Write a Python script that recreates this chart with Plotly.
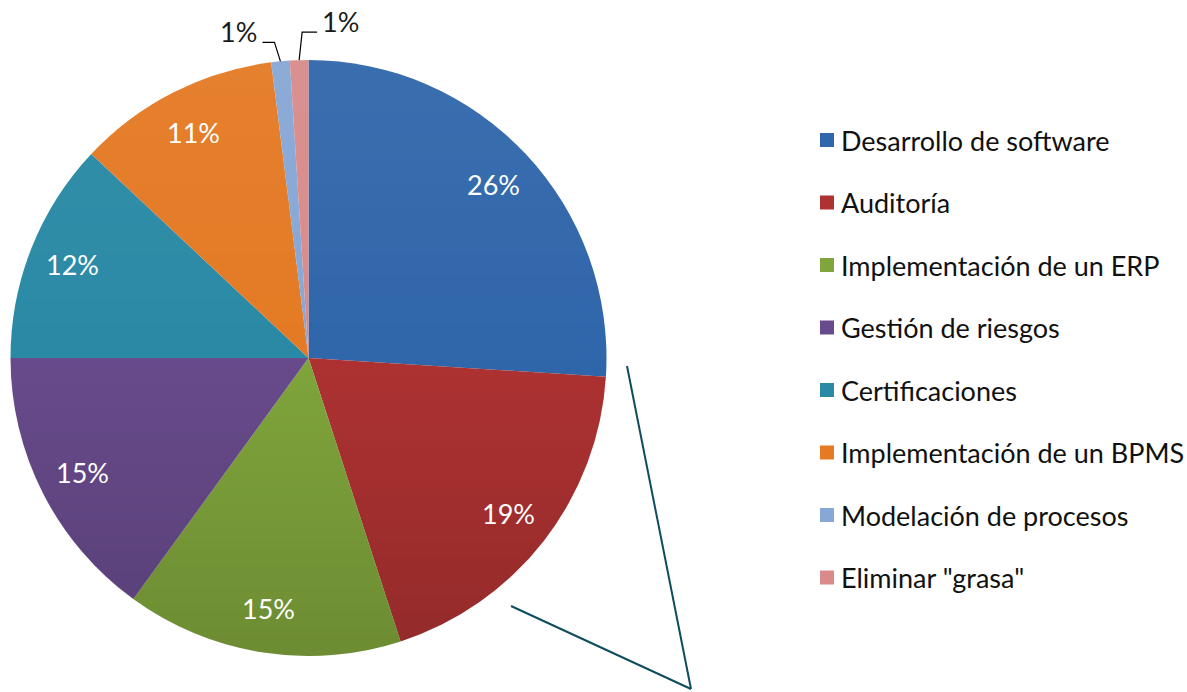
import base64
import math
import struct
import zlib

import numpy as np
import plotly.graph_objects as go

# Share of effort by initiative (%), clockwise from 12 o'clock
categories = [
    "Desarrollo de software",
    "Auditoría",
    "Implementación de un ERP",
    "Gestión de riesgos",
    "Certificaciones",
    "Implementación de un BPMS",
    "Modelación de procesos",
    'Eliminar "grasa"',
]
values = [26, 19, 15, 15, 12, 11, 1, 1]
colors = ["#3067ab", "#ae3232", "#80a53c", "#684b8c", "#2a8aa6",
          "#e47a24", "#87a7d6", "#d98b8b"]

W, H = 1187, 692
CX, CY, R = 308.5, 358.0, 298.0      # pie centre and radius in pixels
FONT = "Lato"


def px(x):
    return x / W


def py(y):
    return 1 - y / H


def shading_png(radius, scale=2, top_light=0.05, bottom_dark=0.15):
    """Round RGBA overlay: light wash at the top fading to a dark wash at the bottom."""
    n = int(2 * radius * scale)
    yy, xx = np.mgrid[0:n, 0:n].astype(float) + 0.5
    c = n / 2
    dist = np.hypot(xx - c, yy - c)
    cover = np.clip(c - dist + 0.5, 0, 1)
    t = yy / n
    rgba = np.zeros((n, n, 4), dtype=float)
    upper = t < 0.5
    rgba[..., :3] = np.where(upper[..., None], 255.0, 0.0)
    alpha = np.where(upper, top_light * (1 - t / 0.5), bottom_dark * (t - 0.5) / 0.5)
    rgba[..., 3] = 255 * alpha * cover
    img = rgba.round().astype(np.uint8)
    raw = b"".join(b"\x00" + img[r].tobytes() for r in range(n))

    def chunk(tag, data):
        return (struct.pack(">I", len(data)) + tag + data
                + struct.pack(">I", zlib.crc32(tag + data) & 0xFFFFFFFF))

    png = (b"\x89PNG\r\n\x1a\n"
           + chunk(b"IHDR", struct.pack(">IIBBBBB", n, n, 8, 6, 0, 0, 0))
           + chunk(b"IDAT", zlib.compress(raw, 9))
           + chunk(b"IEND", b""))
    return "data:image/png;base64," + base64.b64encode(png).decode()


fig = go.Figure()
fig.add_trace(go.Pie(
    labels=categories,
    values=values,
    sort=False,
    direction="clockwise",
    rotation=0,
    marker=dict(colors=colors, line=dict(width=0)),
    textinfo="none",
    hoverinfo="label+percent",
    showlegend=False,
    domain=dict(x=[px(CX - R), px(CX + R)], y=[py(CY + R), py(CY - R)]),
))

total = sum(values)
annotations = []
shapes = []

# elbow leader lines for the thin slices: (rise, horizontal run)
leaders = {6: (19, -12), 7: (28, 15)}

cum = 0.0
for i, (lab, v) in enumerate(zip(categories, values)):
    mid = (cum + v / 2) / total * 2 * math.pi
    cum += v
    txt = f"{round(v / total * 100)}%"
    if i in leaders:
        rise, run = leaders[i]
        x0 = CX + R * math.sin(mid)
        y0 = CY - R * math.cos(mid)
        x1 = x0 + (3 if run > 0 else -6)
        y1 = y0 - rise
        x2 = x1 + run
        shapes.append(dict(type="path", xref="paper", yref="paper",
                           path=f"M{px(x0)},{py(y0)} L{px(x1)},{py(y1)} L{px(x2)},{py(y1)}",
                           line=dict(color="#000000", width=1.2)))
        annotations.append(dict(
            x=px(x2 + (3 if run > 0 else -3)), y=py(y1 - 11), xref="paper", yref="paper",
            text=txt, showarrow=False,
            xanchor="left" if run > 0 else "right", yanchor="middle",
            font=dict(family=FONT, size=27, color="#1a1a1a")))
    else:
        r = 0.85 * R
        annotations.append(dict(
            x=px(CX + r * math.sin(mid)), y=py(CY - r * math.cos(mid)),
            xref="paper", yref="paper", text=txt, showarrow=False,
            xanchor="center", yanchor="middle",
            font=dict(family=FONT, size=27, color="#ffffff")))

# legend column
LEG_X, LEG_Y0, LEG_DY, SQ = 820, 140, 62.5, 14
for i, (lab, c) in enumerate(zip(categories, colors)):
    yc = LEG_Y0 + i * LEG_DY
    shapes.append(dict(type="rect", xref="paper", yref="paper",
                       x0=px(LEG_X), x1=px(LEG_X + SQ),
                       y0=py(yc + SQ / 2), y1=py(yc - SQ / 2),
                       fillcolor=c, line=dict(width=0)))
    annotations.append(dict(
        x=px(LEG_X + SQ + 5), y=py(yc), xref="paper", yref="paper",
        text=lab, showarrow=False, xanchor="left", yanchor="middle",
        font=dict(family=FONT, size=27, color="#111111")))

# callout lines running off the lower right of the pie
CALLOUT = "#0f4d5e"
shapes.append(dict(type="line", xref="paper", yref="paper",
                   x0=px(627), y0=py(366), x1=px(691), y1=py(689),
                   line=dict(color=CALLOUT, width=2)))
shapes.append(dict(type="line", xref="paper", yref="paper",
                   x0=px(511), y0=py(606), x1=px(691), y1=py(689),
                   line=dict(color=CALLOUT, width=2)))

fig.update_layout(
    width=W, height=H,
    margin=dict(l=0, r=0, t=0, b=0),
    paper_bgcolor="#ffffff",
    plot_bgcolor="#ffffff",
    annotations=annotations,
    shapes=shapes,
    images=[dict(source=shading_png(R), xref="paper", yref="paper",
                 x=px(CX - R), y=py(CY - R), sizex=2 * R / W, sizey=2 * R / H,
                 xanchor="left", yanchor="top", sizing="stretch", layer="above")],
)

fig.write_html("out.html", include_plotlyjs=True, full_html=True,
               config={"displayModeBar": False})
